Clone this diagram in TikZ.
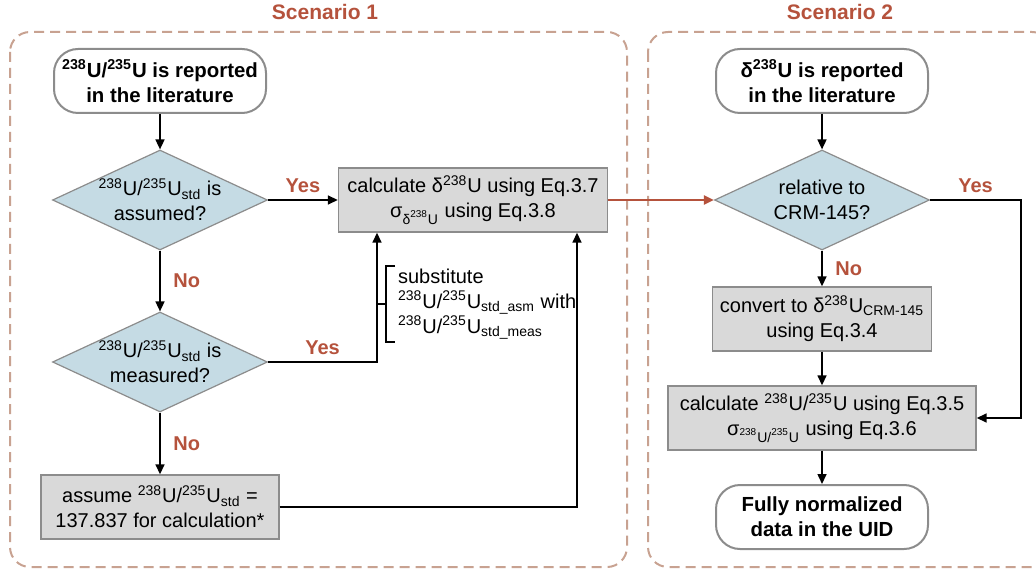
\documentclass[tikz,border=0pt]{standalone}
\usepackage{fontspec}
\setmainfont{Liberation Sans}
\usetikzlibrary{shapes.geometric,arrows.meta}
\definecolor{scenred}{RGB}{181,82,60}
\definecolor{framebrown}{RGB}{200,162,145}
\definecolor{qblue}{RGB}{197,219,228}
\definecolor{boxgray}{RGB}{217,217,217}
\definecolor{edgegray}{RGB}{140,140,140}
\newcommand{\uratio}{\textsuperscript{238}U/\textsuperscript{235}U}

\begin{document}
\begin{tikzpicture}[x=0.5pt,y=-0.5pt,
    font=\fontsize{10}{12.5}\selectfont,
    >={Triangle[length=5pt,width=4.5pt]},
    flow/.style={->,line width=0.8pt},
    frame/.style={draw=framebrown,line width=1pt,dash pattern=on 5pt off 3pt,rounded corners=10pt},
    title/.style={text=scenred,font=\fontsize{10.5}{12}\selectfont\bfseries},
    yesno/.style={text=scenred,font=\fontsize{10}{12}\selectfont\bfseries},
    terminal/.style={draw=edgegray,line width=1pt,fill=white,rounded corners=12pt,minimum width=106pt,minimum height=32pt,align=center,font=\fontsize{10.2}{12.5}\selectfont\bfseries},
    decision/.style={diamond,draw=edgegray,line width=0.6pt,fill=qblue,minimum width=107.5pt,minimum height=50pt,inner sep=0pt},
    process/.style={draw=edgegray,line width=0.7pt,fill=boxgray,minimum height=32pt,align=center}]
  \useasboundingbox (0,0) rectangle (1036,571);
  \draw[frame] (10,32) rectangle (627,567);
  \draw[frame] (648,32) rectangle (1052,567);
  \node[title] (t1) at (325,12) {Scenario 1};
  \node[title] (t2) at (840,12) {Scenario 2};

  \node[terminal] (start1) at (160,81) {\uratio\ is reported\\in the literature};
  \node[decision,label={[align=center]center:{\uratio\textsubscript{std} is\\assumed?}}] (q1) at (160,200) {};
  \node[decision,label={[align=center]center:{\uratio\textsubscript{std} is\\measured?}}] (q2) at (160,362) {};
  \node[process,minimum width=119pt] (assume) at (160,507) {assume \uratio\textsubscript{std} =\\137.837 for calculation*};
  \node[process,minimum width=134.5pt] (calc1) at (473,200) {calculate δ\textsuperscript{238}U using Eq.3.7\\σ\textsubscript{δ\textsuperscript{238}U} using Eq.3.8};
  \node[anchor=west,align=left] (note) at (391,304) {substitute\\\uratio\textsubscript{std\_asm} with\\\uratio\textsubscript{std\_meas}};
  \coordinate (jn1) at (377,362);
  \coordinate (jn2) at (577,507);

  \node[terminal] (start2) at (822,81) {δ\textsuperscript{238}U is reported\\in the literature};
  \node[decision,label={[align=center]center:{relative to\\CRM-145?}}] (q3) at (822,200) {};
  \node[process,minimum width=109.5pt] (conv) at (822,319) {convert to δ\textsuperscript{238}U\textsubscript{CRM-145}\\using Eq.3.4};
  \node[process,minimum width=154pt] (calc2) at (822,418) {calculate \uratio\ using Eq.3.5\\σ\textsubscript{\uratio} using Eq.3.6};
  \node[terminal] (done) at (822,517) {Fully normalized\\data in the UID};
  \coordinate (jn3) at (1021,200);

  \draw[flow] (start1) -- (q1);
  \draw[flow] (q1) -- node[yesno,above] {Yes} (calc1);
  \draw[flow] (q1) -- node[yesno,right=3pt] {No} (q2);
  \draw[flow] (q2.east) -- node[yesno,above] {Yes} (jn1) -- (jn1 |- calc1.south);
  \draw[flow] (q2) -- node[yesno,right=3pt] {No} (assume);
  \draw[flow] (assume.east) -- (jn2) -- (jn2 |- calc1.south);
  \draw[line width=0.7pt] (377,304) -- (386,304);
  \draw[line width=0.7pt] (395,266) -- (386,266) -- (386,342) -- (395,342);
  \draw[flow,scenred,line width=1.1pt] (calc1) -- (q3);

  \draw[flow] (start2) -- (q3);
  \draw[flow] (q3.east) -- node[yesno,above] {Yes} (jn3) |- (calc2.east);
  \draw[flow] (q3) -- node[yesno,right=3pt] {No} (conv);
  \draw[flow] (conv) -- (calc2);
  \draw[flow] (calc2) -- (done);
\end{tikzpicture}
\end{document}
